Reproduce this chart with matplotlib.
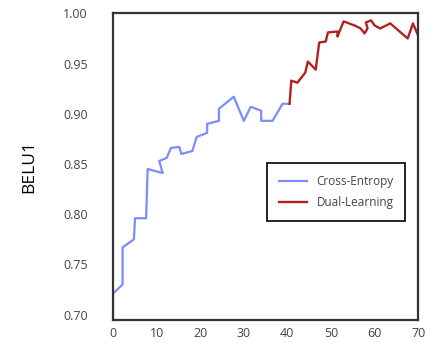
import matplotlib
matplotlib.use("Agg")
import matplotlib.pyplot as plt

plt.rcParams["font.family"] = ["Open Sans", "DejaVu Sans"]

# Cross-Entropy phase (epochs 0-40)
ce_x = [0, 0, 2.2, 2.2, 4.8, 5.05, 7.6, 7.95, 11.4, 10.6, 12.3, 13.3, 15.2, 15.7,
        18.2, 19.2, 21.6, 21.6, 24.3, 24.3, 27.7, 30.0, 31.6, 34.0, 34.0, 36.6, 38.9, 40.5]
ce_y = [0.695, 0.721, 0.730, 0.767, 0.775, 0.796, 0.796, 0.845, 0.841, 0.853, 0.856, 0.866,
        0.867, 0.860, 0.863, 0.877, 0.881, 0.890, 0.893, 0.905, 0.917, 0.893, 0.907, 0.903,
        0.893, 0.893, 0.910, 0.910]

# Dual-Learning phase (epochs 40-70)
dl_x = [40.5, 40.9, 42.3, 44.1, 44.7, 46.5, 47.3, 48.8, 49.3, 51.5, 51.5, 52.9, 55.4,
        56.8, 57.7, 58.4, 58.0, 59.2, 60.0, 61.3, 63.6, 67.6, 68.8, 70.0]
dl_y = [0.910, 0.933, 0.931, 0.941, 0.952, 0.944, 0.971, 0.972, 0.981, 0.982, 0.977, 0.992,
        0.988, 0.985, 0.980, 0.985, 0.991, 0.993, 0.988, 0.985, 0.990, 0.975, 0.990, 0.978]

x_ticks = [0, 10, 20, 30, 40, 50, 60, 70]
y_ticks = [0.70, 0.75, 0.80, 0.85, 0.90, 0.95, 1.00]

fig = plt.figure(figsize=(4.28, 3.43), dpi=100)
ax = fig.add_axes([0.264, 0.068, 0.713, 0.893])

ax.plot(ce_x, ce_y, color="#7b8cff", lw=1.6, label="Cross-Entropy")
ax.plot(dl_x, dl_y, color="#b22222", lw=1.7, label="Dual-Learning")

ax.set_xlim(0, 70)
ax.set_ylim(0.695, 1.0)
ax.set_xticks(x_ticks)
ax.set_yticks(y_ticks)
ax.set_yticklabels([f"{v:.2f}" for v in y_ticks])
ax.tick_params(length=0, labelsize=9, labelcolor="#444444")
ax.tick_params(axis="y", pad=18)
ax.tick_params(axis="x", pad=5)

for s in ax.spines.values():
    s.set_color("#333333")
    s.set_linewidth(1.6)

ax.set_ylabel("BELU1", fontsize=12.5, labelpad=19)

leg = ax.legend(loc="upper left", bbox_to_anchor=(0.485, 0.53), fontsize=8.5,
                fancybox=False, framealpha=1, edgecolor="#222222",
                handlelength=2.4, borderpad=1.0, labelspacing=0.65)
leg.get_frame().set_linewidth(1.4)
for t in leg.get_texts():
    t.set_color("#444444")

fig.savefig("out.png", dpi=100)
